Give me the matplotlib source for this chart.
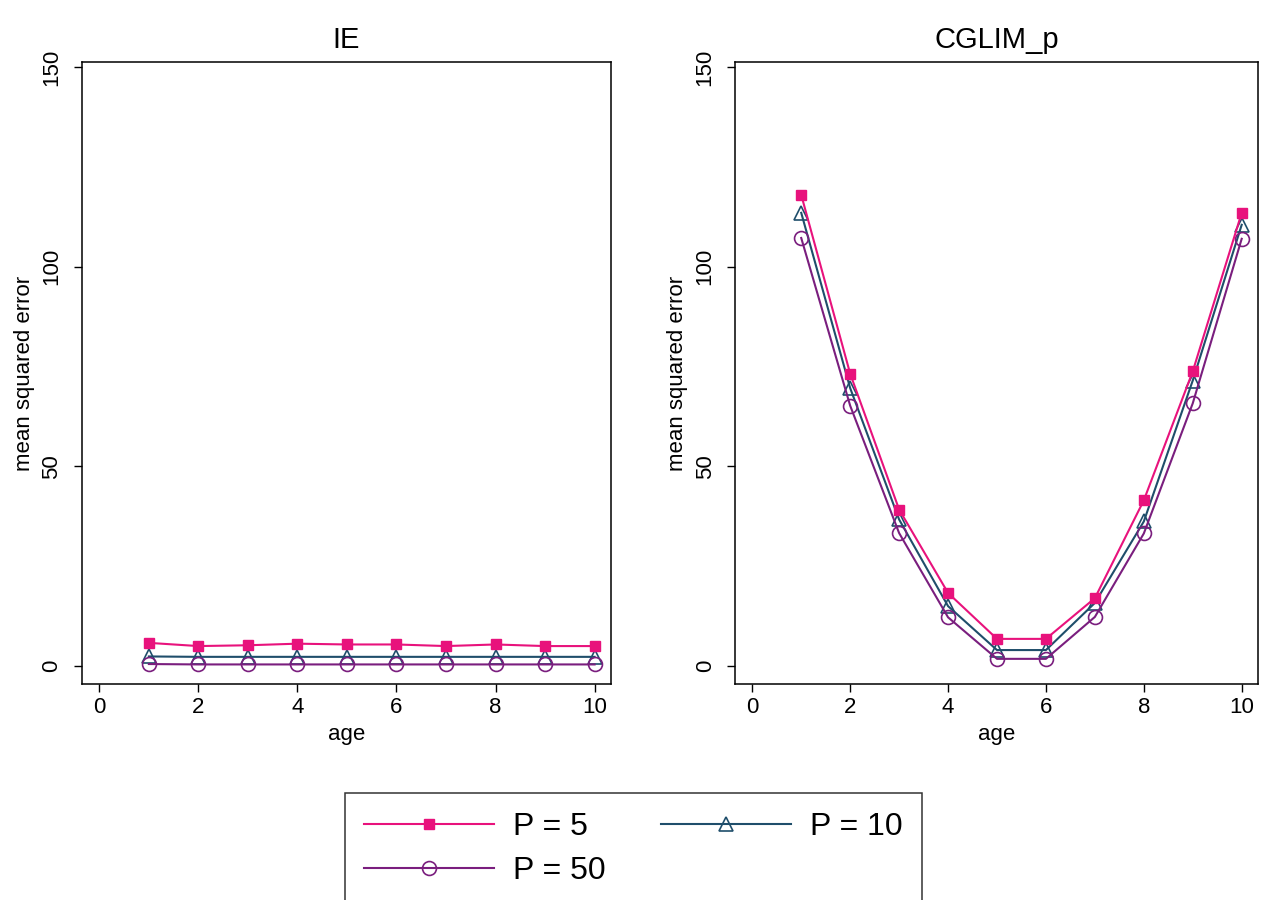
import matplotlib.pyplot as plt
from matplotlib.ticker import FixedLocator

plt.rcParams['font.family'] = ['Liberation Sans', 'DejaVu Sans']

age = [1, 2, 3, 4, 5, 6, 7, 8, 9, 10]

# IE panel
ie_p5 = [5.8, 5.0, 5.2, 5.6, 5.4, 5.4, 5.0, 5.4, 5.0, 5.0]
ie_p10 = [2.4, 2.3, 2.3, 2.3, 2.3, 2.3, 2.3, 2.3, 2.3, 2.3]
ie_p50 = [0.5, 0.4, 0.4, 0.4, 0.4, 0.4, 0.4, 0.4, 0.4, 0.4]

# CGLIM_p panel
cg_p5 = [118.0, 73.2, 39.2, 18.3, 6.8, 6.8, 17.0, 41.5, 73.8, 113.5]
cg_p10 = [113.5, 69.6, 36.7, 15.0, 4.0, 4.0, 15.8, 36.2, 71.5, 110.5]
cg_p50 = [107.2, 65.2, 33.3, 12.2, 1.8, 1.8, 12.3, 33.2, 65.8, 107.0]

labels = ['P = 5', 'P = 10', 'P = 50']
colors = ['#E8127C', '#1F4E6B', '#7A1E7E']

fig = plt.figure(figsize=(12.61, 9), dpi=100)
ax1 = fig.add_axes([0.065, 0.24, 0.4195, 0.691])
ax2 = fig.add_axes([0.583, 0.24, 0.4145, 0.691])

def draw(ax, p5, p10, p50, title):
    h5, = ax.plot(age, p5, color=colors[0], lw=1.5, marker='s', ms=7,
                  mfc=colors[0], mec=colors[0], label=labels[0], zorder=3)
    h10, = ax.plot(age, p10, color=colors[1], lw=1.5, marker='^', ms=10,
                   mfc='none', mec=colors[1], mew=1.2, label=labels[1])
    h50, = ax.plot(age, p50, color=colors[2], lw=1.5, marker='o', ms=10,
                   mfc='none', mec=colors[2], mew=1.2, label=labels[2])
    ax.set_xlim(-0.35, 10.33)
    ax.set_ylim(-4.5, 151.25)
    ax.xaxis.set_major_locator(FixedLocator([0, 2, 4, 6, 8, 10]))
    ax.yaxis.set_major_locator(FixedLocator([0, 50, 100, 150]))
    ax.tick_params(axis='both', labelsize=16, length=6, width=1, color='black')
    ax.tick_params(axis='y', pad=8)
    for lab in ax.get_yticklabels():
        lab.set_rotation(90)
        lab.set_va('center')
    ax.set_xlabel('age', fontsize=16, labelpad=4)
    ax.set_ylabel('mean squared error', fontsize=16, labelpad=5)
    ax.set_title(title, fontsize=21, pad=10)
    for s in ax.spines.values():
        s.set_linewidth(1.1)
    return [h5, h10, h50]

handles = draw(ax1, ie_p5, ie_p10, ie_p50, 'IE')
draw(ax2, cg_p5, cg_p10, cg_p50, 'CGLIM_p')

# row-major order: P=5, P=10 on the first row, P=50 below
order = [0, 2, 1]
leg = fig.legend([handles[i] for i in order], [labels[i] for i in order],
                 loc='upper left', bbox_to_anchor=(0.2736, 0.119), borderaxespad=0,
                 ncol=2, fontsize=23, frameon=True, fancybox=False,
                 edgecolor='black', handlelength=4.05, handletextpad=0.6,
                 columnspacing=1.75, borderpad=0.6, labelspacing=0.45)
leg.get_frame().set_linewidth(1.1)

fig.savefig('out.png', dpi=100)
